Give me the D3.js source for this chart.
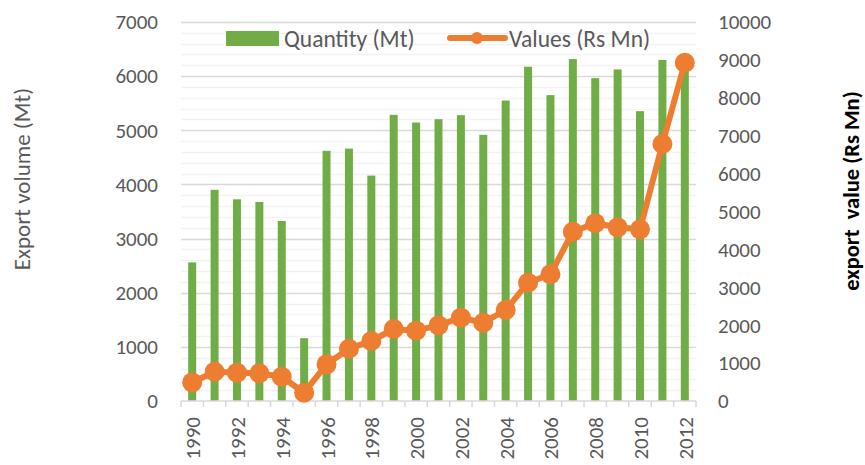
<!DOCTYPE html>
<html>
<head>
<meta charset="utf-8">
<script src="https://cdn.jsdelivr.net/npm/d3@7"></script>
<style>
body { margin: 0; background: #fff; }
text { font-family: Carlito, Lato, "Open Sans", sans-serif; }
</style>
</head>
<body>
<div id="chart"></div>
<script>
// data
var years = d3.range(1990, 2013).map(String);
var quantity = [2560, 3900, 3725, 3676, 3325, 1160, 4620, 4662, 4163, 5285, 5143, 5205,
                5279, 4916, 5550, 6174, 5649, 6315, 5963, 6124, 5353, 6300, 6090];
var values = [490, 773, 747, 731, 641, 219, 968, 1380, 1583, 1900, 1855, 1997,
              2198, 2066, 2401, 3121, 3343, 4467, 4689, 4583, 4530, 6781, 8926];
var leftTicks = [0, 1000, 2000, 3000, 4000, 5000, 6000, 7000];
var rightTicks = [0, 1000, 2000, 3000, 4000, 5000, 6000, 7000, 8000, 9000, 10000];
var xLabels = years.filter(function(d, i) { return i % 2 == 0; });

var width = 865, height = 465;
var plotLeft = 181, plotRight = 696, plotTop = 22, plotBottom = 401;
var green = "#70AD47", orange = "#ED7D31", grey = "#595959";

var svg = d3.select("#chart").append("svg")
  .attr("width", width)
  .attr("height", height);

var x = d3.scaleBand().domain(years).range([plotLeft, plotRight]);
var yL = d3.scaleLinear().domain([0, 7000]).range([plotBottom, plotTop]);
var yR = d3.scaleLinear().domain([0, 10000]).range([plotBottom, plotTop]);

// minor gridlines every 200, major every 1000
svg.append("g")
  .selectAll("line").data(d3.range(200, 7001, 200)).enter()
  .append("line")
  .attr("x1", plotLeft).attr("x2", plotRight)
  .attr("y1", function(d) { return Math.round(yL(d)) + 0.5; })
  .attr("y2", function(d) { return Math.round(yL(d)) + 0.5; })
  .attr("stroke", function(d) { return d % 1000 == 0 ? "#D9D9D9" : "#F2F2F2"; })
  .attr("stroke-width", 1.5);

// bars
svg.append("g")
  .selectAll("rect").data(quantity).enter()
  .append("rect")
  .attr("x", function(d, i) { return x(years[i]) + x.bandwidth() / 2 - 4; })
  .attr("width", 8)
  .attr("y", function(d) { return yL(d); })
  .attr("height", function(d) { return plotBottom - yL(d); })
  .attr("fill", green);

// bottom axis line and category ticks
svg.append("line")
  .attr("x1", plotLeft).attr("x2", plotRight)
  .attr("y1", plotBottom).attr("y2", plotBottom)
  .attr("stroke", "#D9D9D9").attr("stroke-width", 1.5);

svg.append("g")
  .selectAll("line").data(d3.range(years.length + 1)).enter()
  .append("line")
  .attr("x1", function(i) { return plotLeft + i * x.step(); })
  .attr("x2", function(i) { return plotLeft + i * x.step(); })
  .attr("y1", plotBottom).attr("y2", plotBottom + 6)
  .attr("stroke", "#D9D9D9").attr("stroke-width", 1.5);

svg.append("g")
  .selectAll("text").data(xLabels).enter()
  .append("text")
  .attr("transform", function(d) {
    return "translate(" + (x(d) + x.bandwidth() / 2 + 8) + "," + (plotBottom + 16) + ") rotate(-90)";
  })
  .attr("text-anchor", "end")
  .attr("fill", grey)
  .style("font-size", "21px")
  .text(function(d) { return d; });

// line + markers
var line = d3.line()
  .x(function(d, i) { return x(years[i]) + x.bandwidth() / 2; })
  .y(function(d) { return yR(d); });

svg.append("path")
  .datum(values)
  .attr("d", line)
  .attr("fill", "none")
  .attr("stroke", orange)
  .attr("stroke-width", 6)
  .attr("stroke-linejoin", "round");

svg.append("g")
  .selectAll("circle").data(values).enter()
  .append("circle")
  .attr("cx", function(d, i) { return x(years[i]) + x.bandwidth() / 2; })
  .attr("cy", function(d) { return yR(d); })
  .attr("r", 10)
  .attr("fill", orange);

// left axis labels
svg.append("g")
  .selectAll("text").data(leftTicks).enter()
  .append("text")
  .attr("x", 158)
  .attr("y", function(d) { return yL(d); })
  .attr("dy", "0.35em")
  .attr("text-anchor", "end")
  .attr("fill", grey)
  .style("font-size", "21px")
  .text(function(d) { return d; });

// right axis labels
svg.append("g")
  .selectAll("text").data(rightTicks).enter()
  .append("text")
  .attr("x", 718)
  .attr("y", function(d) { return yR(d); })
  .attr("dy", "0.35em")
  .attr("fill", grey)
  .style("font-size", "21px")
  .text(function(d) { return d; });

// axis titles
svg.append("text")
  .attr("transform", "translate(30,179) rotate(-90)")
  .attr("text-anchor", "middle")
  .attr("fill", grey)
  .style("font-size", "23px")
  .text("Export volume (Mt)");

svg.append("text")
  .attr("transform", "translate(859,191) rotate(-90)")
  .attr("text-anchor", "middle")
  .attr("fill", "#000")
  .style("font-size", "22.5px")
  .style("font-weight", "bold")
  .style("white-space", "pre")
  .text("export  value (Rs Mn)");

// legend
var lg = svg.append("g");
lg.append("rect")
  .attr("x", 226).attr("y", 31).attr("width", 53).attr("height", 15)
  .attr("fill", green);
lg.append("text")
  .attr("x", 284).attr("y", 38.5).attr("dy", "0.35em")
  .attr("fill", grey).style("font-size", "23.5px")
  .text("Quantity (Mt)");
lg.append("line")
  .attr("x1", 450).attr("x2", 505).attr("y1", 38).attr("y2", 38)
  .attr("stroke", orange).attr("stroke-width", 6).attr("stroke-linecap", "round");
lg.append("circle")
  .attr("cx", 477).attr("cy", 38).attr("r", 6).attr("fill", orange);
lg.append("text")
  .attr("x", 509).attr("y", 38.5).attr("dy", "0.35em")
  .attr("fill", grey).style("font-size", "23.5px")
  .text("Values (Rs Mn)");
</script>
</body>
</html>
